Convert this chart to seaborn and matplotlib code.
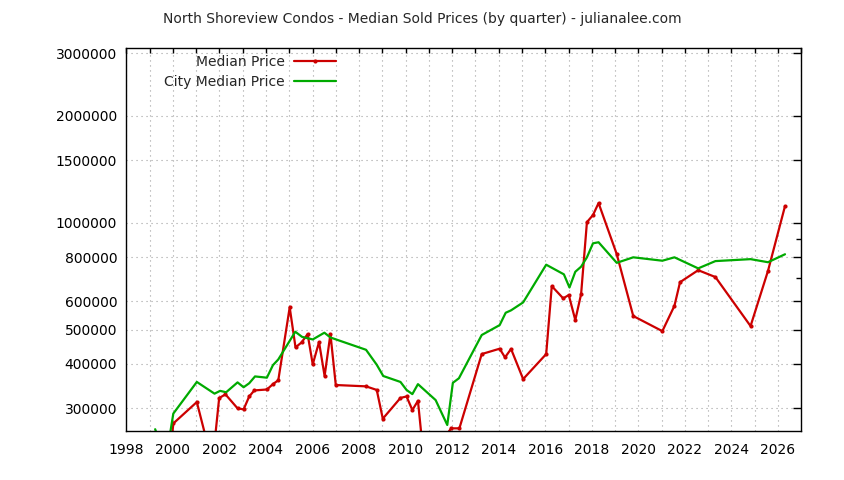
import numpy as np
import pandas as pd
import matplotlib
matplotlib.use("Agg")
import matplotlib.pyplot as plt
import seaborn as sns
from matplotlib.ticker import FixedLocator, NullFormatter

# Median sold price of North Shoreview condos, by quarter
area_year = [1999.85, 2000.02, 2001.03, 2001.70, 2001.99, 2002.26, 2002.78, 2003.04,
             2003.28, 2003.50, 2004.04, 2004.30, 2004.53, 2005.02, 2005.27, 2005.53,
             2005.79, 2006.01, 2006.28, 2006.52, 2006.77, 2007.00, 2008.30, 2008.76,
             2009.02, 2009.78, 2010.04, 2010.29, 2010.53, 2010.80, 2011.96, 2012.31,
             2013.27, 2014.04, 2014.27, 2014.53, 2015.05, 2016.04, 2016.28, 2016.77,
             2017.01, 2017.29, 2017.54, 2017.79, 2018.05, 2018.29, 2019.07, 2019.78,
             2021.03, 2021.55, 2021.79, 2022.57, 2023.31, 2024.82, 2025.57, 2026.30]
area_price = [210000, 272000, 312500, 210000, 320700, 328500, 300000, 298000,
              324000, 337000, 339000, 351000, 360000, 577600, 445600, 460000,
              485700, 399000, 461000, 370000, 485700, 349000, 346000, 338000,
              280500, 321000, 324000, 296700, 315000, 210000, 263500, 263500,
              426600, 441700, 417500, 441000, 362700, 426600, 662800, 612300,
              625500, 531900, 629500, 1003700, 1051000, 1136000, 816000, 546000,
              495000, 583500, 680000, 735000, 703000, 511500, 732000, 1114000]

# City-wide median price
city_year = [1999.24, 1999.70, 2000.02, 2001.03, 2001.79, 2002.03, 2002.29, 2002.78,
             2003.04, 2003.28, 2003.53, 2004.04, 2004.30, 2004.53, 2005.26, 2005.55,
             2006.01, 2006.51, 2006.77, 2008.30, 2008.76, 2009.04, 2009.78, 2010.04,
             2010.29, 2010.53, 2011.29, 2011.79, 2012.03, 2012.29, 2013.27, 2014.04,
             2014.30, 2014.53, 2015.05, 2016.04, 2016.80, 2017.04, 2017.29, 2017.54,
             2017.79, 2018.05, 2018.29, 2019.07, 2019.78, 2021.03, 2021.55, 2022.57,
             2023.31, 2024.82, 2025.57, 2026.30]
city_price = [262000, 215000, 290000, 356000, 330000, 336000, 333000, 355000,
              344000, 353000, 369000, 366000, 397000, 412000, 493000, 477000,
              469000, 490000, 475000, 438600, 398000, 370000, 356000, 338000,
              329000, 351000, 316500, 269300, 354000, 364600, 482700, 514700,
              557700, 566500, 596500, 761600, 715500, 657000, 727500, 752000,
              799000, 875000, 881000, 771000, 799000, 781600, 799000, 743700,
              779700, 789600, 774000, 815000]

y_ticks = [300000, 400000, 500000, 600000, 800000, 1000000, 1500000, 2000000, 3000000]
y_minor = [700000, 900000]
x_years = list(range(1998, 2028))

area = pd.DataFrame({"year": area_year, "price": area_price})
city = pd.DataFrame({"year": city_year, "price": city_price})

sns.set_style("white")
plt.rcParams["font.family"] = ["DejaVu Sans"]
plt.rcParams["font.size"] = 10

fig = plt.figure(figsize=(8.44, 4.8), dpi=100)
ax = fig.add_axes([126.3 / 844, 1 - 430.7 / 480, 675 / 844, 382.4 / 480])

sns.lineplot(data=area, x="year", y="price", ax=ax, color="#cc0000", lw=1.6,
             marker="o", markersize=3, markeredgewidth=0, label="Median Price",
             sort=False)
sns.lineplot(data=city, x="year", y="price", ax=ax, color="#00aa00", lw=1.6,
             label="City Median Price", sort=False)

ax.set_yscale("log")
ax.set_ylim(259500, 3100000)
ax.set_xlim(1998, 2027)

ax.yaxis.set_major_locator(FixedLocator(y_ticks))
ax.set_yticklabels([str(v) for v in y_ticks])
ax.yaxis.set_minor_locator(FixedLocator(y_minor))
ax.yaxis.set_minor_formatter(NullFormatter())
ax.set_xticks(x_years)
ax.set_xticklabels([str(y) if y % 2 == 0 else "" for y in x_years])

ax.tick_params(axis="both", which="both", direction="in", top=True, right=True,
               colors="black", labelsize=10, width=1)
ax.tick_params(axis="x", which="major", length=3.3, pad=8.5)
ax.tick_params(axis="y", which="major", length=5.8, pad=6.5)
ax.tick_params(axis="y", which="minor", length=3.3)

ax.grid(True, which="major", color="#a0a0a0", lw=0.8, ls=(0, (1, 3.5)))
for s in ax.spines.values():
    s.set_color("black")
    s.set_linewidth(1.0)

ax.set_xlabel("")
ax.set_ylabel("")

leg = ax.legend(loc="upper right", bbox_to_anchor=(336 / 844, 1 - 55 / 480),
                bbox_transform=fig.transFigure, frameon=False, markerfirst=False,
                handlelength=3.0, handletextpad=0.7, labelspacing=0.45,
                borderpad=0, borderaxespad=0, fontsize=10)

fig.suptitle("North Shoreview Condos - Median Sold Prices (by quarter) - julianalee.com",
             x=0.5, y=1 - 12 / 480, va="top", fontsize=10)

fig.savefig("out.png", dpi=100)
